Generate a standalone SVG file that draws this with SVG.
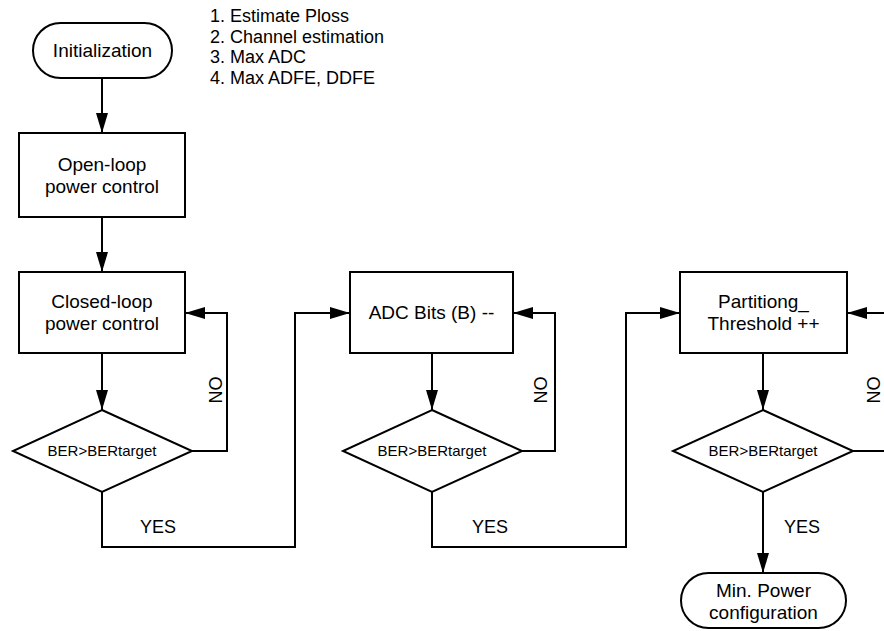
<svg xmlns="http://www.w3.org/2000/svg" width="884" height="631" viewBox="0 0 884 631">
<defs>
<marker id="ah" markerWidth="20" markerHeight="12" refX="20" refY="6" orient="auto" markerUnits="userSpaceOnUse">
<path d="M0,0 L20,6 L0,12 Z" fill="#000"/>
</marker>
<style>
.shape{fill:#fff;stroke:#000;stroke-width:2}
.conn{fill:none;stroke:#000;stroke-width:2}
.arr{marker-end:url(#ah)}
text{font-family:"Liberation Sans",Arial,sans-serif;fill:#000}
.t{font-size:19px;text-anchor:middle}
.d{font-size:15px;text-anchor:middle}
.l{font-size:18px}
.lab{font-size:18px;text-anchor:middle}
</style>
</defs>
<rect width="884" height="631" fill="#fff"/>
<g id="connectors">
<path class="conn arr" d="M102,78 L102,133"/>
<path class="conn arr" d="M102,217 L102,272"/>
<path class="conn arr" d="M102,353 L102,410"/>
<path class="conn arr" d="M192,451 L227,451 L227,313 L185,313"/>
<path class="conn arr" d="M102,492 L102,547 L295,547 L295,313 L350,313"/>
<path class="conn arr" d="M432,353 L432,410"/>
<path class="conn arr" d="M522,451 L555,451 L555,313 L513,313"/>
<path class="conn arr" d="M432,492 L432,547 L626,547 L626,313 L680,313"/>
<path class="conn arr" d="M763,353 L763,410"/>
<path class="conn arr" d="M853,451 L892,451 L892,313 L847,313"/>
<path class="conn arr" d="M763,492 L763,573"/>
<g id="labels">
<text class="lab" transform="translate(222,390) rotate(-90)">NO</text>
<text class="lab" transform="translate(547,390) rotate(-90)">NO</text>
<text class="lab" transform="translate(880,390) rotate(-90)">NO</text>
<text class="lab" x="158" y="533">YES</text>
<text class="lab" x="490" y="533">YES</text>
<text class="lab" x="802" y="533">YES</text>
</g>
</g>
<g id="note">
<text class="l" x="210" y="22">1. Estimate Ploss</text>
<text class="l" x="210" y="43">2. Channel estimation</text>
<text class="l" x="210" y="63">3. Max ADC</text>
<text class="l" x="210" y="84">4. Max ADFE, DDFE</text>
</g>
<g id="init">
<rect class="shape" x="33" y="23" width="139" height="55" rx="27.5" ry="27.5"/>
<text class="t" x="102.5" y="57">Initialization</text>
</g>
<g id="openloop">
<rect class="shape" x="19" y="133" width="166" height="84"/>
<text class="t" x="102" y="171">Open-loop</text>
<text class="t" x="102" y="193">power control</text>
</g>
<g id="closedloop">
<rect class="shape" x="19" y="272" width="166" height="81"/>
<text class="t" x="102" y="308">Closed-loop</text>
<text class="t" x="102" y="330">power control</text>
</g>
<g id="dec1">
<polygon class="shape" points="102,410 192,451 102,492 13,451"/>
<text class="d" x="102" y="456">BER&gt;BERtarget</text>
</g>
<g id="adc">
<rect class="shape" x="350" y="272" width="163" height="81"/>
<text class="t" x="431.5" y="319">ADC Bits (B) --</text>
</g>
<g id="dec2">
<polygon class="shape" points="432,410 522,451 432,492 343,451"/>
<text class="d" x="432" y="456">BER&gt;BERtarget</text>
</g>
<g id="partition">
<rect class="shape" x="680" y="272" width="167" height="81"/>
<text class="t" x="763.5" y="308">Partitiong_</text>
<text class="t" x="763.5" y="330">Threshold ++</text>
</g>
<g id="dec3">
<polygon class="shape" points="763,410 853,451 763,492 673,451"/>
<text class="d" x="763" y="456">BER&gt;BERtarget</text>
</g>
<g id="minpower">
<rect class="shape" x="681" y="573" width="165" height="55" rx="27.5" ry="27.5"/>
<text class="t" x="763.5" y="597">Min. Power</text>
<text class="t" x="763.5" y="619">configuration</text>
</g>
</svg>
